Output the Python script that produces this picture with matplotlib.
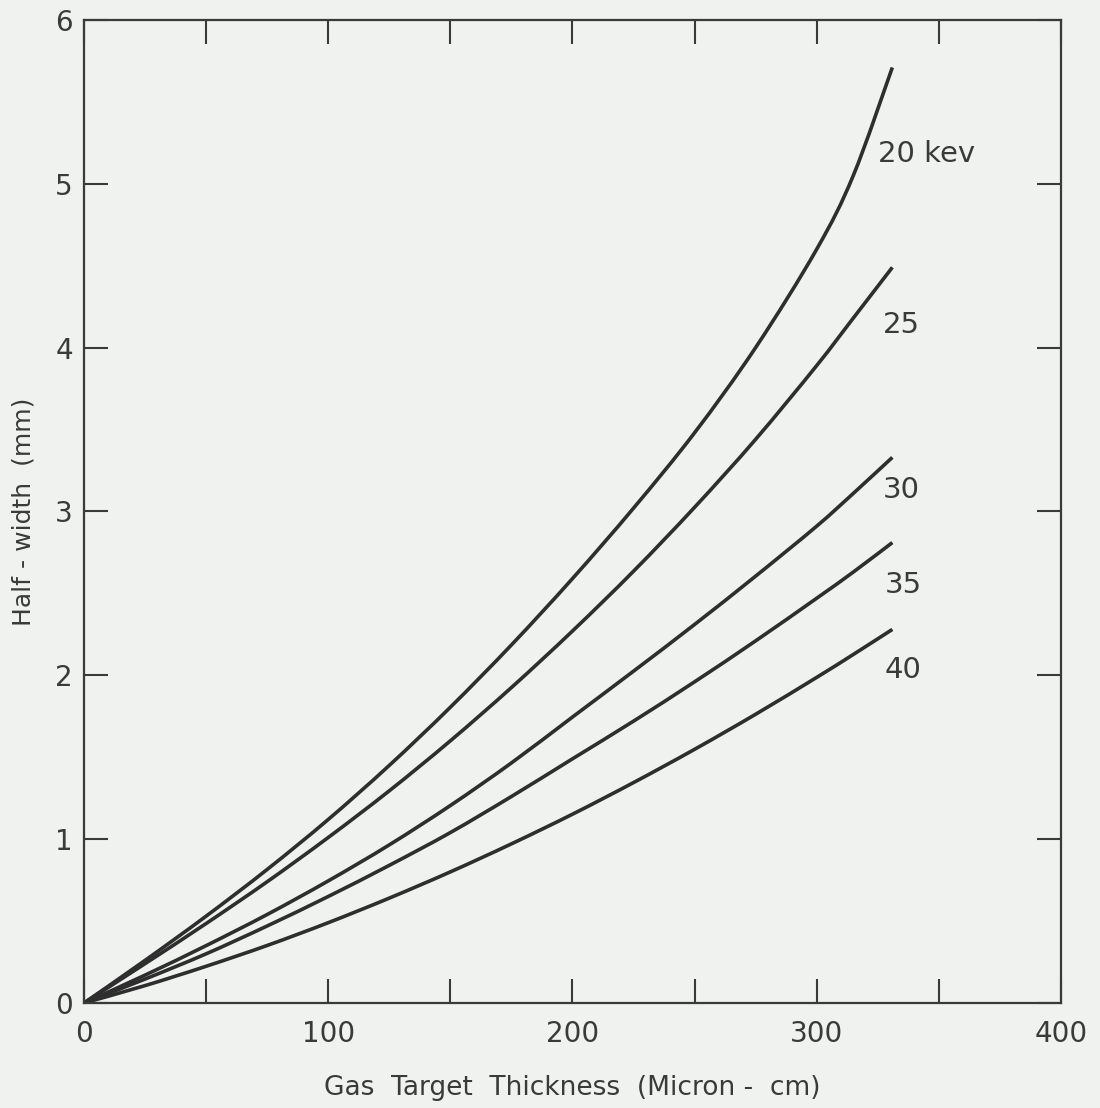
import matplotlib
matplotlib.use("Agg")
import matplotlib.pyplot as plt
from matplotlib.path import Path
from matplotlib.patches import PathPatch

# thickness grid (micron-cm) and half-width (mm)
thickness = [0, 25, 50, 75, 100, 125, 150, 175, 200, 225, 250, 275, 300, 315, 331]
hw_20 = [0, 0.26, 0.53, 0.815, 1.12, 1.45, 1.805, 2.185, 2.59, 3.02, 3.48, 4.00, 4.60, 5.05, 5.71]
hw_25 = [0, 0.24, 0.485, 0.74, 1.01, 1.295, 1.60, 1.925, 2.27, 2.635, 3.025, 3.44, 3.89, 4.18, 4.49]
hw_30 = [0, 0.17, 0.35, 0.54, 0.745, 0.965, 1.205, 1.465, 1.745, 2.025, 2.31, 2.605, 2.91, 3.11, 3.33]
hw_35 = [0, 0.146, 0.30, 0.47, 0.65, 0.84, 1.04, 1.26, 1.49, 1.72, 1.96, 2.21, 2.47, 2.63, 2.81]
hw_40 = [0, 0.106, 0.224, 0.351, 0.49, 0.64, 0.80, 0.971, 1.152, 1.345, 1.548, 1.762, 1.987, 2.127, 2.28]

curve_labels = ["20 kev", "25", "30", "35", "40"]
label_x = [325, 327, 327, 328, 328]
label_y = [5.18, 4.14, 3.13, 2.55, 2.03]

x_ticks = [0, 100, 200, 300, 400]
x_minor = [50, 150, 250, 350]
y_ticks = [0, 1, 2, 3, 4, 5, 6]

INK = "#3a3a3a"
BG = "#eff2ef"


def smooth_path(xs, ys):
    # cubic bezier segments through the points (catmull-rom tangents)
    pts = list(zip(xs, ys))
    verts = [pts[0]]
    codes = [Path.MOVETO]
    n = len(pts)
    for i in range(n - 1):
        p0 = pts[max(i - 1, 0)]
        p1, p2 = pts[i], pts[i + 1]
        p3 = pts[min(i + 2, n - 1)]
        c1 = (p1[0] + (p2[0] - p0[0]) / 6, p1[1] + (p2[1] - p0[1]) / 6)
        c2 = (p2[0] - (p3[0] - p1[0]) / 6, p2[1] - (p3[1] - p1[1]) / 6)
        verts += [c1, c2, p2]
        codes += [Path.CURVE4] * 3
    return Path(verts, codes)


fig = plt.figure(figsize=(11, 11.08), dpi=100, facecolor=BG)
ax = fig.add_axes([0.0764, 0.0948, 0.888, 0.8872], facecolor=BG)

for ys in (hw_20, hw_25, hw_30, hw_35, hw_40):
    ax.add_patch(PathPatch(smooth_path(thickness, ys), fill=False,
                           edgecolor="#2e2e2e", lw=2.6, capstyle="butt"))

for txt, lx, ly in zip(curve_labels, label_x, label_y):
    ax.text(lx, ly, txt, fontsize=21, color=INK, ha="left", va="center")

ax.set_xlim(0, 400); ax.set_ylim(0, 6)
ax.set_xticks(x_ticks); ax.set_xticks(x_minor, minor=True)
ax.set_yticks(y_ticks)
ax.tick_params(which="both", direction="in", length=17, width=1.5, color=INK,
               top=True, right=True, labelsize=20, labelcolor=INK)
ax.tick_params(axis="x", pad=12)
ax.tick_params(axis="y", pad=8)
for s in ax.spines.values():
    s.set_color(INK); s.set_linewidth(1.6)

ax.set_xlabel("Gas  Target  Thickness  (Micron -  cm)", fontsize=19, color=INK, labelpad=20)
ax.set_ylabel("Half - width  (mm)", fontsize=18, color=INK, labelpad=14)

fig.savefig("out.png", dpi=100, facecolor=BG)
